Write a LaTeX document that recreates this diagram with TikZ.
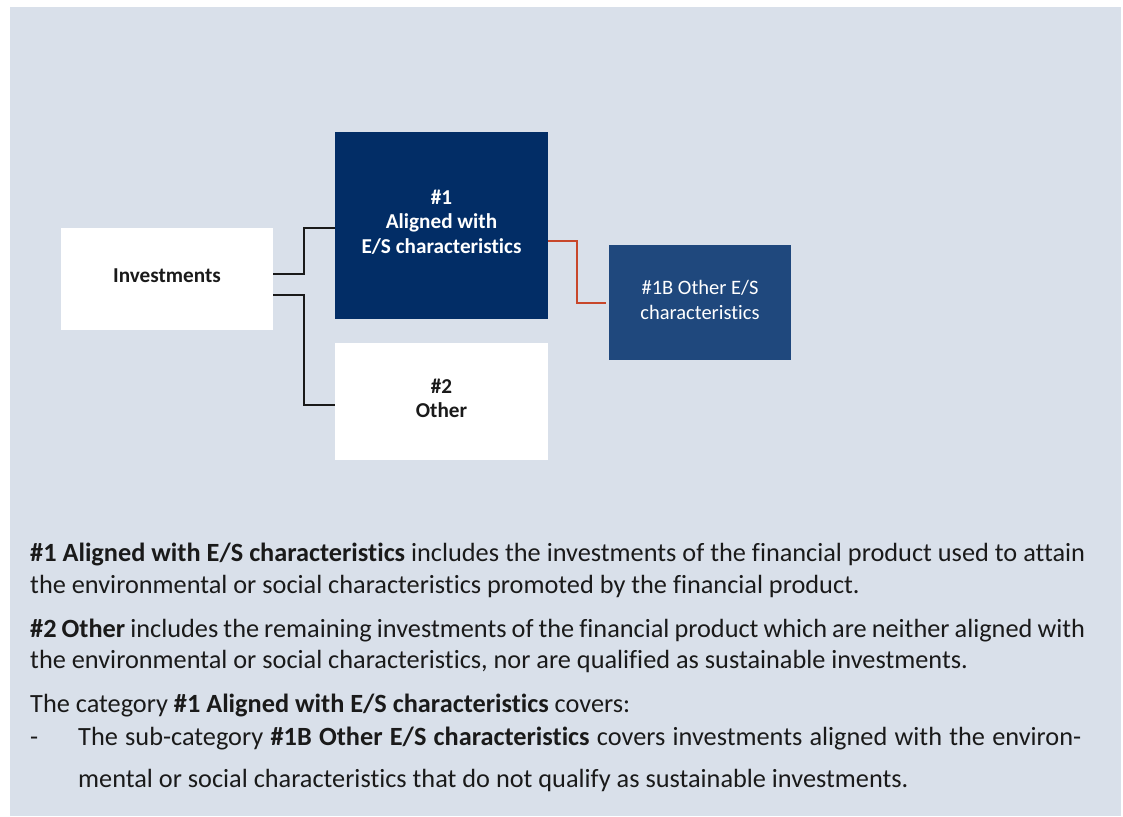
\documentclass[tikz,border=0pt]{standalone}
\usepackage{fontspec}
\setmainfont{Carlito}[Ligatures=NoCommon]
\definecolor{bg}{HTML}{D9E0EA}
\definecolor{navy}{HTML}{022D66}
\definecolor{midblue}{HTML}{1F487D}
\definecolor{rust}{HTML}{C8472B}
\definecolor{ink}{HTML}{1A1A1A}
\newcommand{\bodyfont}{\fontsize{26.3}{26.3}\selectfont}
\newcommand{\boxfont}{\fontsize{20.5}{24.5}\selectfont}
\newcommand{\boxbold}{\fontsize{21.2}{24.5}\selectfont\bfseries}
\tikzset{
  boxshape/.style={draw=none, inner sep=0pt},
  lbl/.style={inner sep=0pt, align=center, font=\boxfont},
  body/.style={anchor=base west, inner sep=0pt, text=ink, font=\bodyfont},
  conn/.style={draw=ink, line width=1.5pt},
  connr/.style={draw=rust, line width=1.5pt}
}
\begin{document}
\begin{tikzpicture}[x=1pt,y=-1pt]
\useasboundingbox (0,0) rectangle (1123,816);
\fill[bg] (10,7) rectangle (1121,816);
\node[boxshape, fill=white, minimum width=212pt, minimum height=102pt] (inv) at (167,279) {};
\node[boxshape, fill=navy, minimum width=213pt, minimum height=187pt] (a) at (441.5,225.5) {};
\node[boxshape, fill=white, minimum width=213pt, minimum height=117pt] (b) at (441.5,401.5) {};
\node[boxshape, fill=midblue, minimum width=182pt, minimum height=115pt] (c) at (700,302.5) {};
\node[lbl, text=ink, font=\boxbold] (invt) at (167,276) {Investments};
\node[lbl, text=white, font=\boxbold] (at) at (441.5,222) {\#1\\Aligned with\\E/S characteristics};
\node[lbl, text=ink, font=\boxbold] (bt) at (441.5,398.5) {\#2\\Other};
\node[lbl, text=white] (ct) at (700,300) {\#1B Other E/S\\characteristics};
\draw[conn] ([yshift=5pt]inv.east) -- ++(31,0) |- ([yshift=-2.5pt]a.west);
\draw[conn] ([yshift=-16pt]inv.east) -- ++(31,0) |- ([yshift=-3.5pt]b.west);
\draw[connr, shorten >=3pt] ([yshift=-15.5pt]a.east) -- ++(29,0) |- ([yshift=-0.5pt]c.west);
\node[body] (l1) at (30,561) {\makebox[1055pt][s]{\textbf{\#1 Aligned with E/S characteristics} includes the investments of the financial product used to attain}};
\node[body] (l2) at (30,593) {the environmental or social characteristics promoted by the financial product.};
\node[body] (l3) at (30,637) {\makebox[1055pt][s]{\textbf{\#2 Other} includes the remaining investments of the financial product which are neither aligned with}};
\node[body] (l4) at (30,668) {the environmental or social characteristics, nor are qualified as sustainable investments.};
\node[body] (l5) at (30,712) {The category \textbf{\#1 Aligned with E/S characteristics} covers:};
\node[body] (dash) at (30,745) {-};
\node[body] (l6) at (78,745) {\makebox[1003pt][s]{The sub-category \textbf{\#1B Other E/S characteristics} covers investments aligned with the environ-}};
\node[body] (l7) at (78,787) {mental or social characteristics that do not qualify as sustainable investments.};
\end{tikzpicture}
\end{document}
